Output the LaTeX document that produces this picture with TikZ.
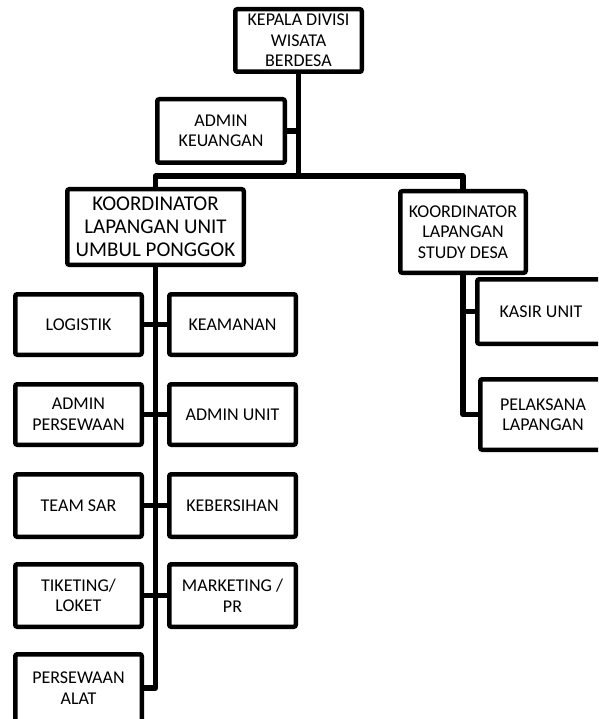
\documentclass[tikz,border=0pt]{standalone}
\usepackage{fontspec}
\setmainfont{Carlito}
\begin{document}
\begin{tikzpicture}[x=1pt,y=-1pt,
  box/.style={draw=black,line width=4.5pt,rounded corners=2pt,fill=white,align=center,inner sep=0pt,
    font=\fontsize{18}{20.5}\selectfont},
  bigbox/.style={box,font=\fontsize{21}{23}\selectfont},
  conn/.style={draw=black,line width=5.5pt,line join=round}]
\useasboundingbox (0,0) rectangle (598,719);
\clip (0,0) rectangle (598,719);
% nodes
\node[box,minimum width=126.5pt,minimum height=62.5pt] (kepala) at (298.5,40.5) {KEPALA DIVISI\\WISATA\\BERDESA};
\node[box,minimum width=127.5pt,minimum height=63.5pt] (akeu) at (221,131) {ADMIN\\KEUANGAN};
\node[bigbox,minimum width=176.5pt,minimum height=75.5pt] (kunit) at (155.5,227) {KOORDINATOR\\LAPANGAN UNIT\\UMBUL PONGGOK};
\node[box,minimum width=125.5pt,minimum height=81.5pt] (kstudy) at (463,232) {KOORDINATOR\\LAPANGAN\\STUDY DESA};
\node[box,minimum width=127.5pt,minimum height=64.5pt] (kasir) at (541,311.5) {KASIR UNIT};
\node[box,minimum width=125.5pt,minimum height=70.5pt] (pel) at (543,414.5) {PELAKSANA\\LAPANGAN};
\node[box,minimum width=126.5pt,minimum height=60.5pt] (log) at (78.5,324.5) {LOGISTIK};
\node[box,minimum width=126.5pt,minimum height=60.5pt] (kea) at (232.5,324.5) {KEAMANAN};
\node[box,minimum width=126.5pt,minimum height=60.5pt] (aper) at (78.5,414.5) {ADMIN\\PERSEWAAN};
\node[box,minimum width=126.5pt,minimum height=60.5pt] (aunit) at (232.5,414.5) {ADMIN UNIT};
\node[box,minimum width=126.5pt,minimum height=62.5pt] (sar) at (78.5,505.5) {TEAM SAR};
\node[box,minimum width=126.5pt,minimum height=62.5pt] (keb) at (232.5,505.5) {KEBERSIHAN};
\node[box,minimum width=126.5pt,minimum height=62.5pt] (tik) at (78.5,595.5) {TIKETING/\\LOKET};
\node[box,minimum width=126.5pt,minimum height=62.5pt] (mkt) at (232.5,595.5) {MARKETING /\\PR};
\node[box,minimum width=126.5pt,minimum height=67.5pt] (alat) at (78.5,688) {PERSEWAAN\\ALAT};
\coordinate (bus) at (298.5,176);
% connectors (drawn first behind would need layers; draw then redraw nodes not needed since lines end at borders)
\begin{scope}[on background layer/.style={}]
\end{scope}
\path[conn] (kepala.south) -- (bus);
\path[conn] (akeu.east) -- (akeu.east -| bus);
\path[conn] (kunit.north) |- (bus) -| (kstudy.north);
\path[conn] (kstudy.south) |- (pel.west);
\path[conn] (kasir.west) -- (kasir.west -| kstudy.south);
\path[conn] (kunit.south) |- (alat.east);
\path[conn] (log.east) -- (kea.west);
\path[conn] (aper.east) -- (aunit.west);
\path[conn] (sar.east) -- (keb.west);
\path[conn] (tik.east) -- (mkt.west);
\end{tikzpicture}
\end{document}
